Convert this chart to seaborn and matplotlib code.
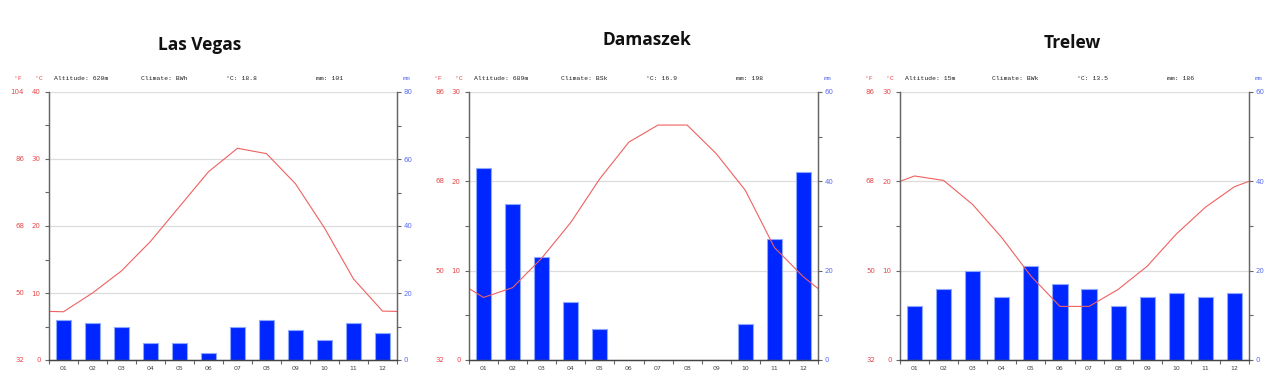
import numpy as np
import pandas as pd
import matplotlib
matplotlib.use("Agg")
import matplotlib.pyplot as plt
import matplotlib.transforms as mtransforms
from matplotlib.ticker import MultipleLocator
import seaborn as sns

# dane
months = ["01", "02", "03", "04", "05", "06", "07", "08", "09", "10", "11", "12"]

cities = ["Las Vegas", "Damaszek", "Trelew"]
altitudes = ["620m", "689m", "15m"]
climates = ["BWh", "BSk", "BWk"]
mean_temps = ["18.8", "16.9", "13.5"]
precip_totals = ["101", "198", "186"]
temp_top = [40, 30, 30]

lv_temp = [7.2, 10.0, 13.3, 17.7, 22.9, 28.1, 31.6, 30.8, 26.3, 19.7, 12.1, 7.3]
lv_temp_edge = 7.25
lv_precip = [12, 11, 10, 5, 5, 2, 10, 12, 9, 6, 11, 8]

dam_temp = [7.0, 8.1, 11.4, 15.4, 20.3, 24.4, 26.3, 26.3, 23.1, 19.0, 12.6, 9.3]
dam_temp_edge = 8.0
dam_precip = [43, 35, 23, 13, 7, 0, 0, 0, 0, 8, 27, 42]

tre_temp = [20.6, 20.1, 17.4, 13.7, 9.4, 6.0, 6.0, 7.9, 10.5, 14.1, 17.1, 19.4]
tre_temp_edge = 20.0
tre_precip = [12, 16, 20, 14, 21, 17, 16, 12, 14, 15, 14, 15]

temps = [lv_temp, dam_temp, tre_temp]
temp_edges = [lv_temp_edge, dam_temp_edge, tre_temp_edge]
precips = [lv_precip, dam_precip, tre_precip]

# układ (piksele)
W, H = 1280, 382
ax_left = [49, 469, 900]
ax_width = [348, 349, 349]
ax_top = 92
ax_bottom = 360
title_x = [200, 647, 1072]
title_y = [45, 40, 43]

RED = "#e8484c"
LINE_RED = "#f06060"
BLUE = "#5b6cf0"
BAR = "#0026ff"
BAR_EDGE = "#8ea8ff"
SPINE = "#666666"

sns.set_theme(style="white")
plt.rcParams["font.family"] = ["DejaVu Sans"]

fig = plt.figure(figsize=(W / 100, H / 100), dpi=100)


def draw_panel(i):
    rect = [ax_left[i] / W, (H - ax_bottom) / H, ax_width[i] / W, (ax_bottom - ax_top) / H]
    axp = fig.add_axes(rect)
    tmax = temp_top[i]
    px = 1 / ax_width[i]

    # opady - słupki
    df = pd.DataFrame({"month": months, "mm": precips[i]})
    sns.barplot(data=df, x="month", y="mm", ax=axp, color=BAR, saturation=1,
                width=0.52, edgecolor=BAR_EDGE, linewidth=0.8, zorder=2)
    for p in axp.patches:
        if p.get_height() == 0:
            p.set_linewidth(0)
    axp.set_xlabel("")
    axp.set_ylabel("")

    # temperatura - linia
    axt = axp.twinx()
    x = np.concatenate([[-0.5], np.arange(len(months)), [len(months) - 0.5]])
    y = [temp_edges[i]] + temps[i] + [temp_edges[i]]
    sns.lineplot(x=x, y=y, ax=axt, color=LINE_RED, linewidth=0.8, sort=False)
    axt.set_xlabel("")
    axt.set_ylabel("")

    # oś opadów po prawej
    axp.set_ylim(0, tmax * 2)
    axp.yaxis.set_major_locator(MultipleLocator(20))
    axp.yaxis.set_minor_locator(MultipleLocator(10))
    axp.set_axisbelow(True)
    axp.grid(axis="y", which="major", color="#dcdcdc", linewidth=0.9)
    axp.grid(axis="x", visible=False)
    axp.yaxis.tick_right()
    axp.tick_params(axis="y", which="both", direction="out", length=3, width=0.8,
                    color=SPINE, labelcolor=BLUE, labelsize=5, pad=2)

    # oś temperatury po lewej
    axt.set_ylim(0, tmax)
    axt.yaxis.tick_left()
    axt.yaxis.set_major_locator(MultipleLocator(10))
    axt.yaxis.set_minor_locator(MultipleLocator(5))
    axt.tick_params(axis="y", which="both", direction="out", length=3, width=0.8,
                    color=SPINE, labelcolor=RED, labelsize=5, pad=3)

    axp.set_xlim(-0.5, len(months) - 0.5)
    axp.set_xticks(np.arange(len(months)))
    axp.set_xticklabels(months)
    axp.set_xticks(np.arange(len(months) + 1) - 0.5, minor=True)
    axp.tick_params(axis="x", which="major", length=0, labelsize=4.5,
                    labelcolor="#444444", pad=4)
    axp.tick_params(axis="x", which="minor", direction="out", length=3,
                    width=0.8, color=SPINE, bottom=True)

    for a in (axp, axt):
        a.spines["top"].set_visible(False)
        for s in ("left", "right"):
            a.spines[s].set_color(SPINE)
            a.spines[s].set_linewidth(0.9)
        a.spines["bottom"].set_color("#444444")
        a.spines["bottom"].set_linewidth(0.9)

    # skala Fahrenheita
    ftr = mtransforms.blended_transform_factory(axt.transAxes, axt.transData)
    for c in range(0, tmax + 1, 10):
        axt.text(-25 * px, c, f"{c * 1.8 + 32:.0f}", transform=ftr, ha="right",
                 va="center", color=RED, fontsize=5, clip_on=False)

    # nagłówek
    tr = mtransforms.blended_transform_factory(axp.transAxes, fig.transFigure)
    hy = (H - 78) / H
    mono = dict(family="Liberation Mono", fontsize=4.6, va="center", transform=tr)
    axp.text(-31 * px, hy, "°F", color=RED, ha="center", **mono)
    axp.text(-10.5 * px, hy, "°C", color=RED, ha="center", **mono)
    axp.text(1 + 10 * px, hy, "mm", color=BLUE, ha="center", **mono)
    axp.text(5 * px, hy, f"Altitude: {altitudes[i]}", color="#222222", ha="left", **mono)
    axp.text(92 * px, hy, f"Climate: {climates[i]}", color="#222222", ha="left", **mono)
    axp.text(177 * px, hy, f"°C: {mean_temps[i]}", color="#222222", ha="left", **mono)
    axp.text(267 * px, hy, f"mm: {precip_totals[i]}", color="#222222", ha="left", **mono)

    fig.text(title_x[i] / W, (H - title_y[i]) / H, cities[i], ha="center", va="center",
             family="Open Sans", fontweight="bold", fontsize=12.5, color="#111111")


for i in range(len(cities)):
    draw_panel(i)

fig.savefig("out.png", dpi=100, facecolor="white")
